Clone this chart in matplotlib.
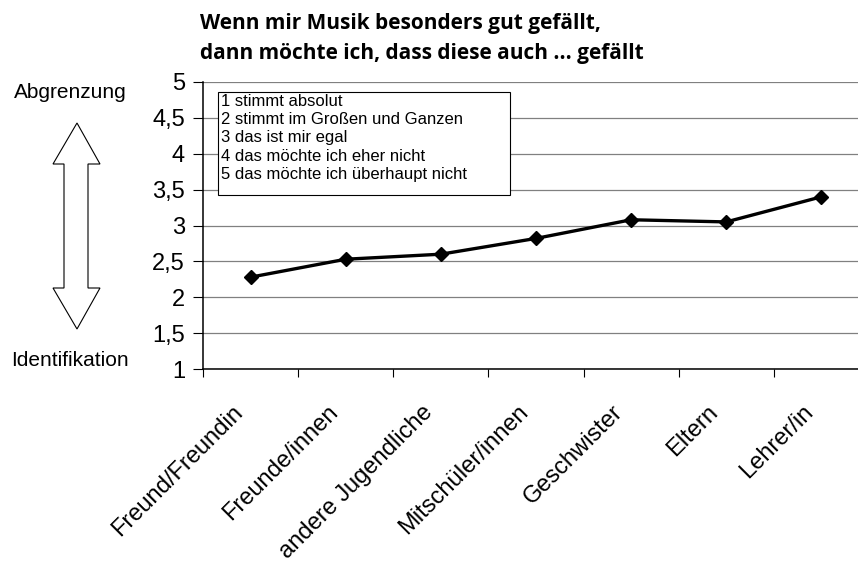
import matplotlib
matplotlib.use("Agg")
import matplotlib.pyplot as plt
from matplotlib.patches import Polygon, Rectangle

# data
categories = ["Freund/Freundin", "Freunde/innen", "andere Jugendliche",
              "Mitschüler/innen", "Geschwister", "Eltern", "Lehrer/in"]
values = [2.28, 2.53, 2.60, 2.82, 3.08, 3.05, 3.40]
y_ticks = [1, 1.5, 2, 2.5, 3, 3.5, 4, 4.5, 5]
y_labels = ["1", "1,5", "2", "2,5", "3", "3,5", "4", "4,5", "5"]
legend_lines = ["1 stimmt absolut", "2 stimmt im Großen und Ganzen",
                "3 das ist mir egal", "4 das möchte ich eher nicht",
                "5 das möchte ich überhaupt nicht"]
title_lines = ["Wenn mir Musik besonders gut gefällt,",
               "dann möchte ich, dass diese auch ... gefällt"]

plt.rcParams['font.family'] = ['Liberation Sans', 'DejaVu Sans']

W, H = 858, 564
fig = plt.figure(figsize=(W / 100, H / 100), dpi=100)
ax = fig.add_axes([203 / W, 1 - 369 / H, 666 / W, (369 - 82) / H])

x = range(len(categories))
ax.plot(x, values, color="black", lw=2.4, marker="D", markersize=7, zorder=3)

ax.set_xlim(-0.5, len(categories) - 0.5)
ax.set_ylim(1, 5)
ax.set_yticks(y_ticks)
ax.set_yticklabels(y_labels, fontsize=17)
ax.yaxis.grid(True, color="#808080", lw=0.9)
ax.set_axisbelow(True)

ax.set_xticks([i + 0.5 for i in range(-1, len(categories))])
ax.set_xticklabels([])
ax.tick_params(axis="x", length=6, direction="out", color="black")
ax.tick_params(axis="y", length=7, direction="out", color="black", pad=6)
for i, cat in enumerate(categories):
    ax.annotate(cat, xy=(i, 1), xycoords="data", xytext=(-13.7, -23.2),
                textcoords="offset points", rotation=45, ha="right",
                va="top", rotation_mode="anchor", fontsize=17)

for s in ["top", "right"]:
    ax.spines[s].set_visible(False)
ax.spines["left"].set_linewidth(1.1)
ax.spines["bottom"].set_linewidth(1.1)

# explanation box
fig.patches.append(Rectangle((218 / W, 1 - 195 / H), (510 - 218) / W, (195 - 92) / H,
                             fc="white", ec="black", lw=0.8,
                             transform=fig.transFigure, zorder=2))
fig.text(221 / W, 1 - 94 / H, "\n".join(legend_lines), ha="left", va="top",
         fontsize=12, linespacing=1.27, zorder=3)

# title
fig.text(200 / W, 1 - 24 / H, title_lines[0], fontsize=15, fontweight="bold",
         family=["Open Sans", "DejaVu Sans"], va="center", ha="left")
fig.text(200 / W, 1 - 54 / H, title_lines[1], fontsize=15, fontweight="bold",
         family=["Open Sans", "DejaVu Sans"], va="center", ha="left")

# side labels and double arrow
fig.text(70 / W, 1 - 92 / H, "Abgrenzung", fontsize=15, ha="center", va="center")
fig.text(70 / W, 1 - 360 / H, "Identifikation", fontsize=15, ha="center", va="center")
pts = [(77, 123), (53, 164), (64, 164), (64, 288), (53, 288), (77, 329),
       (100, 288), (88, 288), (88, 164), (100, 164)]
arrow = Polygon([(px / W, 1 - py / H) for px, py in pts], closed=True,
                fc="white", ec="black", lw=0.8, transform=fig.transFigure)
fig.patches.append(arrow)

fig.savefig("out.png", dpi=100)
